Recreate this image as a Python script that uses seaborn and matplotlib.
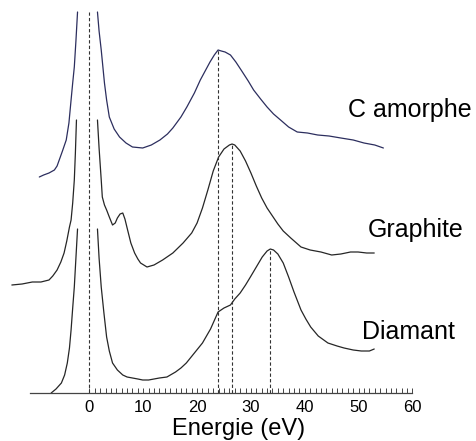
import pandas as pd
import numpy as np
import matplotlib
matplotlib.use("Agg")
import matplotlib.pyplot as plt
import seaborn as sns
from matplotlib.ticker import FixedLocator

# spectra (energy in eV, intensity in arbitrary units, stacked offsets included)
# each spectrum is cut around the zero loss peak -> left part and right part
diam_left_e = [-7.1, -6.2, -5.2, -4.6, -4.1, -3.7, -3.4, -3.1, -2.8, -2.5, -2.2]
diam_left_i = [0, 4, 10, 18, 30, 45, 63, 85, 106, 135, 164]
diam_right_e = [1.5, 1.8, 2.2, 2.7, 3.2, 3.7, 4.3, 5.2, 6.2, 7.0, 8.0, 9.0, 9.9, 11.0,
                12.0, 13.0, 14.4, 16.0, 17.0, 18.0, 19.5, 21.0, 22.5, 23.9, 25.0, 26.2,
                27.0, 28.0, 29.0, 29.9, 31.0, 32.1, 33.0, 33.6, 34.2, 35.0, 36.0, 37.0,
                38.0, 39.3, 40.2, 41.1, 42.5, 44.3, 46.0, 47.3, 49.0, 50.5, 52.0, 52.9]
diam_right_i = [164, 135, 106, 80, 56, 42, 30, 23, 18, 16, 15, 14, 13, 13,
                14, 15, 16, 21, 25, 30, 40, 50, 64, 81, 85, 88,
                94, 100, 108, 116, 126, 136, 142, 144, 143, 139, 130, 116,
                101, 83, 74, 66, 57, 50, 47, 45, 43, 42, 42, 44]

graph_left_e = [-14.4, -12.5, -10.6, -9.0, -7.5, -6.8, -6.0, -5.3, -4.7, -4.2, -3.7,
                -3.4, -3.1, -2.8, -2.6, -2.4]
graph_left_i = [108, 109, 111, 111, 113, 117, 123, 131, 140, 152, 166,
                173, 190, 213, 240, 273]
graph_right_e = [1.5, 1.8, 2.2, 2.4, 2.8, 3.2, 3.7, 4.3, 4.8, 5.2, 5.7, 6.2, 6.6, 7.1,
                 7.7, 8.4, 9.0, 9.5, 10.7, 12.0, 13.6, 15.5, 17.4, 19.0, 20.0, 21.0,
                 22.0, 23.0, 24.0, 25.0, 26.0, 26.5, 27.0, 28.0, 29.0, 30.0, 31.0, 32.0,
                 33.0, 34.0, 35.0, 36.0, 37.4, 39.3, 41.0, 43.0, 45.0, 46.7, 48.5, 49.9,
                 51.5, 52.9]
graph_right_i = [273, 245, 213, 196, 188, 183, 176, 168, 170, 175, 179, 180, 174, 163,
                 150, 140, 134, 130, 126, 128, 133, 140, 150, 160, 170, 185,
                 203, 222, 236, 244, 248, 249, 248, 242, 232, 220, 207, 195,
                 185, 177, 169, 162, 155, 146, 143, 141, 138, 139, 141, 141,
                 140, 140]

amor_left_e = [-9.3, -8.5, -7.5, -6.5, -6.0, -5.6, -5.0, -4.3, -3.8, -3.4, -3.1, -2.8,
               -2.5, -2.2]
amor_left_i = [216, 218, 220, 223, 227, 233, 242, 253, 270, 293, 310, 326,
               352, 381]
amor_right_e = [1.5, 1.8, 2.2, 2.8, 3.2, 3.7, 4.6, 5.6, 6.8, 8.0, 9.9, 11.5, 13.1, 14.5,
                15.5, 17.0, 18.1, 19.5, 20.6, 21.5, 22.4, 23.2, 23.9, 24.5, 25.2, 26.2,
                27.2, 28.3, 29.5, 30.5, 31.8, 33.0, 34.2, 35.5, 37.0, 38.6, 40.5, 42.4,
                44.5, 46.7, 49.0, 51.0, 53.0, 54.6]
amor_right_i = [381, 362, 343, 310, 293, 276, 264, 256, 250, 246, 245, 248, 253, 259,
                265, 276, 286, 300, 313, 322, 331, 338, 343, 342, 341, 338,
                331, 322, 312, 303, 294, 286, 279, 273, 266, 261, 260, 258,
                257, 255, 253, 250, 248, 245]

# positions of the marked peaks (zero loss + plasmons) and the height they reach
peak_energies = [0, 23.9, 26.5, 33.6]
peak_heights = [381, 343, 249, 144]

names = ["C amorphe", "Graphite", "Diamant"]
label_x = [48.0, 51.7, 50.7]
label_y = [283, 163, 61]

major_ticks = [0, 10, 20, 30, 40, 50, 60]


def make_df(le, li, re, ri):
    left = pd.DataFrame({'energy': le, 'intensity': li, 'piece': 0})
    right = pd.DataFrame({'energy': re, 'intensity': ri, 'piece': 1})
    return pd.concat([left, right], ignore_index=True)


diamant = make_df(diam_left_e, diam_left_i, diam_right_e, diam_right_i)
graphite = make_df(graph_left_e, graph_left_i, graph_right_e, graph_right_i)
amorphe = make_df(amor_left_e, amor_left_i, amor_right_e, amor_right_i)

sns.set_style("white")
plt.rcParams['font.family'] = ['Liberation Sans', 'DejaVu Sans']

fig = plt.figure(figsize=(4.76, 4.41), dpi=100)
ax = fig.add_axes([0, 0, 1, 1])

sns.lineplot(data=amorphe, x='energy', y='intensity', units='piece', estimator=None,
             sort=False, color='#2c2e5e', lw=0.9, ax=ax)
sns.lineplot(data=graphite, x='energy', y='intensity', units='piece', estimator=None,
             sort=False, color='#262626', lw=0.9, ax=ax)
sns.lineplot(data=diamant, x='energy', y='intensity', units='piece', estimator=None,
             sort=False, color='#262626', lw=0.9, ax=ax)

# dashed markers from the axis up to each peak
ax.vlines(peak_energies, 0, peak_heights, colors='#333333', linestyles=(0, (3, 2)), lw=0.8)

for n, lx, ly in zip(names, label_x, label_y):
    ax.text(lx, ly, n, fontsize=18, ha='left', va='center', color='black')

ax.set_xlim(-16.6, 71.8)
ax.set_ylim(-48, 393)

# only the bottom axis, with small inward ticks
for s in ['left', 'right', 'top']:
    ax.spines[s].set_visible(False)
ax.spines['bottom'].set_position(('data', 0))
ax.spines['bottom'].set_bounds(-11, 60)
ax.spines['bottom'].set_color('#444444')
ax.spines['bottom'].set_linewidth(0.9)
ax.xaxis.set_major_locator(FixedLocator(major_ticks))
ax.xaxis.set_minor_locator(FixedLocator(list(np.arange(1, 60))))
ax.tick_params(axis='x', which='both', direction='in', length=3.5, width=0.7,
               color='#444444', bottom=True)
ax.tick_params(axis='x', which='major', labelsize=12, pad=5, labelcolor='black')
ax.set_yticks([])
ax.set_ylabel('')
ax.set_xlabel('Energie (eV)', fontsize=17, color='black')
ax.xaxis.set_label_coords(0.502, 0.052)
if ax.get_legend() is not None:
    ax.get_legend().remove()

plt.savefig('out.png', dpi=100, facecolor='white')
